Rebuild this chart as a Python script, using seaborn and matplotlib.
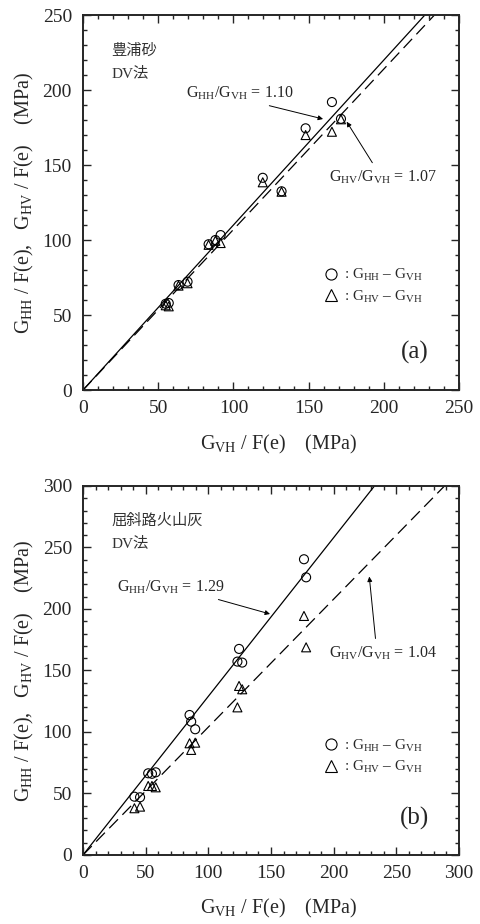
import numpy as np
import pandas as pd
import seaborn as sns
import matplotlib.pyplot as plt
from matplotlib.ticker import MultipleLocator
from matplotlib.lines import Line2D

# (a) Toyoura sand
xa = [55, 57, 63.5, 69.5, 83.5, 88, 91.5, 119.5, 132, 148, 165.5, 171.5]
hh_a = [57.5, 58.0, 70.0, 72.2, 97.2, 100.0, 103.3, 141.5, 132.5, 174.5, 192.0, 180.8]
hv_a = [56.5, 55.8, 69.6, 71.2, 96.8, 99.5, 98.0, 138.5, 132.2, 170.0, 172.2, 180.5]
ratio_hh_a, ratio_hv_a = 1.10, 1.07

# (b) Kussharo volcanic ash
xb = [41, 45.5, 52, 55, 58, 85, 86.3, 89.5, 123.2, 124.5, 127, 176.3, 178]
hh_b = [47.4, 46.9, 66.4, 66, 67.2, 113.8, 108.4, 102.2, 157.2, 167.5, 156.4, 240.4, 225.7]
hv_b = [38, 39.3, 56.1, 56.1, 55, 90.8, 85.4, 91.3, 120, 137.4, 134.7, 194.3, 168.8]
ratio_hh_b, ratio_hv_b = 1.29, 1.04

sns.set_style('ticks')
plt.rcParams['font.family'] = ['Liberation Serif', 'Noto Sans CJK JP']
plt.rcParams['mathtext.fontset'] = 'custom'
plt.rcParams['mathtext.rm'] = 'Liberation Serif'

fig = plt.figure(figsize=(4.81, 9.24), dpi=100)
ax_a = fig.add_axes([0.1726, 0.5779, 0.7817, 0.4058])
ax_b = fig.add_axes([0.1726, 0.0747, 0.7817, 0.3994])


def panel(ax, x, hh, hv, r_hh, r_hv, lim, name, tag,
          ann_hh, ann_hv, leg_y):
    df = pd.DataFrame({'x': list(x) + list(x), 'y': list(hh) + list(hv),
                       'kind': ['HH'] * len(x) + ['HV'] * len(x)})
    sns.scatterplot(data=df, x='x', y='y', style='kind',
                    markers={'HH': 'o', 'HV': '^'}, s=42,
                    facecolor='none', edgecolor='black', linewidth=0.8,
                    legend=False, ax=ax, zorder=3)
    ax.axline((0, 0), slope=r_hh, color='black', lw=0.9)
    ax.axline((0, 0), slope=r_hv, color='black', lw=0.9, ls=(0, (10, 5)))
    ax.set_xlim(0, lim)
    ax.set_ylim(0, lim)
    ax.xaxis.set_major_locator(MultipleLocator(50))
    ax.yaxis.set_major_locator(MultipleLocator(50))
    ax.xaxis.set_minor_locator(MultipleLocator(10))
    ax.yaxis.set_minor_locator(MultipleLocator(10))
    ax.tick_params(which='both', direction='in', top=True, right=True,
                   labelsize=14, width=1.0)
    ax.tick_params(which='major', length=6)
    ax.tick_params(which='minor', length=3)
    ax.tick_params(axis='y', which='major', pad=8)
    ax.tick_params(axis='x', which='major', pad=7)
    for sp in ax.spines.values():
        sp.set_linewidth(1.4)
        sp.set_visible(True)

    ax.set_xlabel(r'$\mathregular{G_{VH}}$ / F(e)    (MPa)', fontsize=14.5)
    ax.set_ylabel(r'$\mathregular{G_{HH}}$ / F(e),   $\mathregular{G_{HV}}$ / F(e)    (MPa)',
                  fontsize=14.5)
    ax.xaxis.set_label_coords(0.52, -0.115)
    ax.yaxis.set_label_coords(-0.125, 0.5)

    ax.text(0.075, 0.905, name, transform=ax.transAxes, fontsize=11,
            color='#333333', va='center')
    ax.text(0.075, 0.845, 'DV法', transform=ax.transAxes, fontsize=11,
            color='#333333', va='center')
    ax.text(0.92, 0.1, tag, transform=ax.transAxes, fontsize=18,
            ha='right', va='center')

    (t1, h1, p1), (t2, h2, p2) = ann_hh, ann_hv
    ax.annotate(r'$\mathregular{G_{HH}/G_{VH}}$ = %.2f' % r_hh, xy=h1, xytext=t1,
                fontsize=11.5, ha='center', va='center',
                arrowprops=dict(arrowstyle='-|>', lw=0.7, color='black',
                                mutation_scale=7, shrinkA=2, shrinkB=0,
                                relpos=p1))
    ax.annotate(r'$\mathregular{G_{HV}/G_{VH}}$ = %.2f' % r_hv, xy=h2, xytext=t2,
                fontsize=11.5, ha='center', va='center',
                arrowprops=dict(arrowstyle='-|>', lw=0.7, color='black',
                                mutation_scale=7, shrinkA=2, shrinkB=0,
                                relpos=p2))

    handles = [Line2D([], [], ls='none', marker='o', ms=8, mfc='none',
                      mec='black', mew=0.8),
               Line2D([], [], ls='none', marker='^', ms=8, mfc='none',
                      mec='black', mew=0.8)]
    labels = [r': $\mathregular{G_{HH}}$ – $\mathregular{G_{VH}}$',
              r': $\mathregular{G_{HV}}$ – $\mathregular{G_{VH}}$']
    ax.legend(handles, labels, loc='center left', bbox_to_anchor=(0.64, leg_y),
              frameon=False, fontsize=11, handlelength=1.0, handletextpad=0.3,
              borderpad=0, borderaxespad=0, labelspacing=0.35)


panel(ax_a, xa, hh_a, hv_a, ratio_hh_a, ratio_hv_a, 250, '豊浦砂', '(a)',
      ((104, 198), (159.6, 180.7), (0.63, 0.0)),
      ((199, 142), (175.3, 178.9), (0.44, 1.0)), 0.277)
panel(ax_b, xb, hh_b, hv_b, ratio_hh_b, ratio_hv_b, 300, '屈斜路火山灰', '(b)',
      ((70, 218), (149.2, 195.9), (0.81, 0.0)),
      ((239, 164), (228.4, 226.3), (0.44, 1.0)), 0.267)

fig.savefig('out.png', dpi=100)
